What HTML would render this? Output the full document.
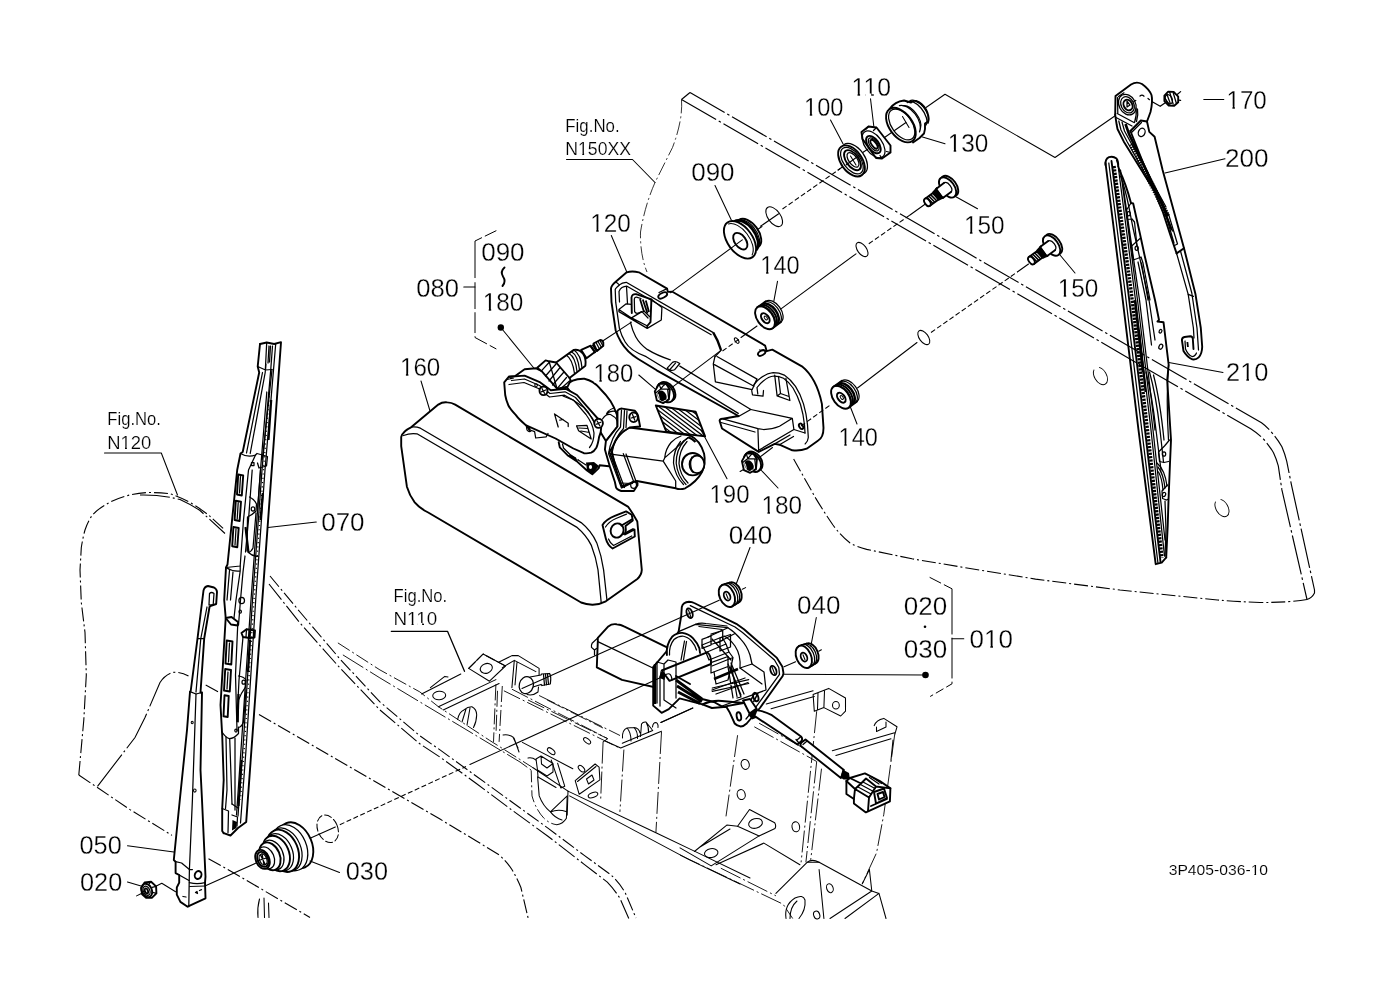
<!DOCTYPE html>
<html><head><meta charset="utf-8"><title>3P405-036-10</title>
<style>
html,body{margin:0;padding:0;background:#fff;}
body{width:1379px;height:1001px;overflow:hidden;font-family:"Liberation Sans",sans-serif;}
svg{display:block;position:absolute;left:0;top:0;fill:none;filter:grayscale(1);}
.l{stroke:#000;stroke-width:1.25;stroke-dasharray:none;stroke-linecap:round;stroke-linejoin:round;}
.t{stroke:#000;stroke-width:1.05;stroke-dasharray:none;stroke-linecap:round;stroke-linejoin:round;}
.w{fill:#fff;stroke:#000;stroke-width:1.25;stroke-dasharray:none;stroke-linecap:round;stroke-linejoin:round;}
.b{stroke:#000;stroke-width:1.9;stroke-dasharray:none;stroke-linecap:round;stroke-linejoin:round;}
.ph{stroke:#000;stroke-width:1.15;stroke-dasharray:40 3 2.5 3;}
.ph2{stroke:#000;stroke-width:1.1;stroke-dasharray:14 3 2 3;}
.cl{stroke:#000;stroke-width:1.05;stroke-dasharray:5 2.5;}
.k{fill:#000;stroke:none;}
text{font-family:"Liberation Sans",sans-serif;fill:#000;stroke:#fff;}
.n{font-size:25px;stroke-width:0.28px;}
.f{font-size:18px;stroke-width:0.18px;}
.s{font-size:14.5px;stroke-width:0.1px;}
</style></head><body>
<svg width="1379" height="1001" viewBox="0 0 1379 1001">
<rect x="0" y="0" width="1379" height="1001" fill="#fff"/>
<!-- 10_glassR.svg -->
<g id="glassR" class="ph">
<path d="M690,92.5 L1261.5,422.8 Q1268,427.500 1273.5,434.7 Q1278,440 1281.9,446.7 Q1285,454 1286.7,461.1 L1291.5,485.1 L1314.5,590 L1314.5,593 Q1312,598 1307,599.5"/>
<path d="M681.5,99.5 L1250.7,428.8 Q1258,433.500 1263.9,439.5 Q1269.500,446 1273.5,452.7 Q1276.500,459 1278.3,465.9 L1281.9,489.9 L1307,599.5"/>
<path d="M690,92.5 L681.5,99.5" style="stroke-dasharray:none"/>
<path d="M1307,599.5 Q1290,602.5 1260,602.5 Q1235,601.500 1217.500,600 L1120,590 L1035.5,579.1 L968.5,568.2 L912,558.8 L866.7,549.4 Q857,547 849.8,542.8 Q841,536 832.8,524.8 Q824,512 815.8,498.4 L792.3,456.6" class="ph2"/>
<path d="M681.5,99.5 Q683,120 672.5,147.5 L655,182.5 Q645,205 640.5,232 Q640,255 647,272" class="ph2" style="stroke-width:0.8"/>
<ellipse cx="1100.5" cy="376" rx="6" ry="9.5" transform="rotate(-30 1100.5 376)" style="stroke-dasharray:34 6;stroke-width:0.9"/>
<ellipse cx="1222" cy="508" rx="6" ry="9.5" transform="rotate(-30 1222 508)" style="stroke-dasharray:34 6;stroke-width:0.9"/>
</g>

<!-- 15_glassL.svg -->
<g id="glassL" class="ph2">
<!-- outer left arc -->
<path d="M78.800,775 L83.800,720 L86.300,675 L85,632.500 L81.300,602.500 L80,570 L81.300,547.500 Q83,537 85,530 Q88,521 92.500,515 Q98,509 105,505 Q114,499.500 125,496.300 Q136,493 147.500,492.500 Q159,492.500 170,493.800 Q180,497 190,502.500 Q201,509 210,516.300 L225,530"/>
<path d="M140,495 Q160,494.500 180,499.500 Q191,504.500 200,510.500 L225,533.500" style="stroke-dasharray:30 3 2 3"/>
<!-- glass edges A,B -->
<path d="M270,576 L300,612 L339.900,658.900 L379.900,701.900 L419.800,735.800 L440,749.900 L476,776 L511.900,802 L547.900,828.100 L583.900,855.100 L610.900,874.900 Q619,882 625.300,892.900 L636,918"/>
<path d="M269,584 L300,623 L339.900,667.900 L379.900,709.900 L419.800,743.800 L440,757.100 L476,783.200 L511.900,810.100 L547.900,836.200 L583.900,864.100 L607.300,882.100 Q614,889 619.900,898.300 L628.800,918.500" style="stroke-dasharray:20 3 2 3"/>
<!-- inner contour -->
<path d="M97.500,786.300 L135,737.500 L145,717.500 L160,682.500 Q165,675 172.500,672.500 Q181,671.500 188.500,676" style="stroke-dasharray:40 3 2 3"/>
<path d="M205.700,685 L219,692.200 M259,714.500 L440,819.100 L476,840.700 L499.400,855.100 Q507,862 511.900,869.500 Q517,878 520.900,887.500 L528.100,918"/>
<!-- lower-left edge -->
<path d="M78.800,775 L130,809.600 L172,835.400 M208.500,858.800 L230,870.700 L310,917.500"/>
<path class="t" d="M259.500,899 Q257,908 258,917.500 M264,898 L264.500,917.500 M268.500,903 L269,917.500"/>
</g>

<!-- 16_frame.svg -->
<g id="frame" class="ph2" style="stroke-width:0.9">
<!-- rails C, D -->
<path d="M337.900,642.900 L379.900,669.900 L419.800,691.900 L438.400,706.700 L489.500,740.300 L532.700,767.500"/>
<path d="M342.900,654.900 L379.900,677.900 L419.800,701.900 L459.800,725.800 L520,762 L531,770" style="stroke-dasharray:24 3 2 3"/>
<!-- plate with 2 holes -->
<path class="t" d="M421.600,694 L460.800,674 M468.700,668.400 L483.100,654 L505.500,666 L489.500,681.200 Z M438.400,706.700 L495.900,679.600 M443.200,709.900 L499.100,683.600 M430.400,687.600 L444.800,676.400 L448,677"/>
<path class="t" d="M468.700,668.400 L483.100,654 L505.500,666" style="stroke-dasharray:9 3"/>
<ellipse class="t" cx="486.300" cy="668.400" rx="6.200" ry="4.800" transform="rotate(-20 486.300 668.400)"/>
<ellipse class="t" cx="439.200" cy="695.500" rx="6.500" ry="4.200" transform="rotate(-5 439.200 695.500)"/>
<!-- L bracket -->
<path class="t" d="M499.100,662 L511.900,655.600 L518.300,655.600 L539.100,668.400 L539.100,676.400 M502.300,667.600 L514.300,660.400 L535.900,671.600 M514.300,660.400 L511.900,687.600 M517,662 L515,685"/>
<!-- frame bolt -->
<path class="l" fill="#fff" d="M530,677 L541,675 L541.500,674 L549.500,673.500 Q551.500,676 550.300,684 L542,685.500 L541,684.500 L533,687"/>
<path class="l" d="M543.500,674.500 l1,10.500 M545.500,674.200 l1,10.500 M547.500,674 l1,10.300"/>
<ellipse class="l" fill="#fff" cx="526.300" cy="685.200" rx="7" ry="8.600" transform="rotate(15 526.300 685.200)"/>
<path class="t" d="M527,694.500 Q533,696 538,692 L538.500,687"/>
<!-- post -->
<path d="M495.900,684.400 L493.500,741.900 M502.300,686 L499.100,741.900 M497.500,690.800 L496,734" style="stroke-dasharray:16 3 2 3"/>
<!-- beam top back edges -->
<path d="M503.900,690.800 L620,748.300 M511.900,689.200 L607.800,738.700 L603,741.900 M539.100,695.500 L620,735.500" style="stroke-dasharray:18 3 2 3"/>
<!-- horn -->
<path class="t" d="M457.600,719.500 Q459,712 463.900,709.900 Q468,706.500 471.900,706.700 Q476.500,709 476.700,714.700 Q476.500,722 473.500,727.500 M466,709 L462,722 M470,708 L467,725"/>
<!-- rail lines crossing to box -->
<path d="M528,700 L607.100,738.400 M547.200,700 L603,728" style="stroke-dasharray:18 3 2 3"/>
<path class="t" d="M522.400,742.400 L572.800,768.700 M532.700,767.500 L568,791.100"/>
<path class="t" d="M503,735 Q510,734 514,738 L519,752 M513,737 L518,748"/>
<!-- small oval holes -->
<ellipse class="t" cx="551.200" cy="751.200" rx="4.500" ry="2.300" transform="rotate(40 551.200 751.200)"/>
<ellipse class="t" cx="587.100" cy="740.800" rx="4.200" ry="2.100" transform="rotate(40 587.100 740.800)"/>
<ellipse class="t" cx="581.500" cy="768.700" rx="4" ry="2.200" transform="rotate(45 581.500 768.700)"/>
<!-- clip 1 & V -->
<path class="t" d="M536,759 L541,756 L553,763.500 L553,772 L547,776 L537.500,770 Z M541,756 L541.500,764 L547,768 L553,763.500 M537.500,770 L538,777 L556,787.500"/>
<path class="t" d="M551.200,760 L560.800,787.900 L564.800,786.300 L557.600,763.200 M528,758 Q532,757 536,760"/>
<!-- hook -->
<path d="M531.200,770.300 L532,795.900 Q536,810 544,818.300 Q550,824 556.800,824.700" style="stroke-dasharray:12 3 2 3"/>
<path class="t" d="M556.800,824.700 Q563,824 566.400,818.300 L567.200,795.900 M537.600,776.700 L539.200,795.900 Q543,806 550.400,811.900 L567.200,795.900 M550.400,811.900 Q558,809 566,811.500 M550.400,811.900 Q555,818 562,820"/>
<!-- clip 2 -->
<path class="t" d="M575.200,780.700 L595.100,764 L599.100,767.100 L599.900,779.900 L579.200,794.300 Z M577.500,781.500 L596,766.500 M586.500,779 L592,775 L594,780 L588.500,784 Z"/>
<ellipse class="t" cx="593" cy="795" rx="5" ry="2.500" transform="rotate(-20 593 795)"/>
<!-- beam front (solid double) -->
<path class="t" d="M568,791.100 L655.900,832.700 L695.900,851.900 L750,878 M569.600,795.900 L689.500,859.900 L740,884 M568,791.100 L567.200,815.100"/>
<!-- column box -->
<path class="t" d="M604.700,740.800 L620.700,748 L661.500,731.200 M622.300,743.200 L652.700,730.400"/>
<path d="M603.100,741.600 L600.700,799.100 M623.900,749.600 L619.900,811.900 M661.500,732 L655.900,832.700" style="stroke-dasharray:22 3 2 3"/>
<!-- stud on box -->
<path class="t" d="M622.500,738 Q622,730 627,728 L634,727.500 Q639,728 640,733 M627,728 Q631,732 631,741 M634,727.500 Q638,732 637.500,738.500 M640.500,736.500 L641.500,724 Q643,721.500 646,722 L652,729.500 M646,722 Q649,727 648.500,732.500 M652.500,727 Q653,722.500 655.900,722.500 Q658.500,723.500 658,727.500"/>
<path class="t" d="M660.700,722.400 L692.800,708"/>
<!-- back panel -->
<path d="M737.600,735.200 L725.600,819.100 M816.700,711.200 L801.100,862.300 M816.700,761.500 L805.900,862.300 M821.500,768.700 L810.700,859.900" style="stroke-dasharray:22 3 2 3"/>
<path d="M754.300,726.800 L816.700,761.500 M759.100,723.200 L814,754" style="stroke-dasharray:22 3 2 3"/>
<ellipse class="t" cx="745.200" cy="764.400" rx="4" ry="5" transform="rotate(-15 745.200 764.400)"/>
<ellipse class="t" cx="741.200" cy="794.600" rx="4" ry="5" transform="rotate(-15 741.200 794.600)"/>
<ellipse class="t" cx="795.800" cy="826.800" rx="3.800" ry="5" transform="rotate(-10 795.800 826.800)"/>
<!-- top bracket with hole -->
<path class="t" d="M813.100,694.400 L828.700,688.400 L845.500,698 L845.500,711.200 L840.700,716 L823.900,707.600 L814.300,711.200 Z M818,693 L817.500,709 M823.900,707.600 L824.500,691"/>
<ellipse class="t" cx="835.900" cy="705.200" rx="3.400" ry="3.800"/>
<path class="t" d="M766.300,704 L813.100,690.800 M771.100,708.800 L814.300,696.500"/>
<!-- right plate -->
<path class="t" d="M874.200,725.600 Q876,720 883.800,718.400 L897,726.800 L894.600,735.200 M832.300,750.700 L894.600,732.800 M835.900,755.500 L891,738.800 M876.500,731.500 L886,727 L886,722 M876.500,731.500 L876.500,727"/>
<path d="M894.600,735.200 L883.800,814.300 L876.600,852.700 L862.300,883.800" style="stroke-dasharray:22 3 2 3"/>
<path d="M893,740 L891,760" class="t"/>
<!-- lower plates with holes -->
<path class="t" d="M749.500,809.500 L774.700,822.700 Q776.500,826 775,828.500 L759.100,835.900 L737.600,826.300 Z"/>
<ellipse class="t" cx="755.500" cy="823.400" rx="7" ry="4.800" transform="rotate(-15 755.500 823.400)"/>
<path class="t" d="M694.400,851.500 L726.800,825.100 L737.600,826.300 M680,847.900 L711.200,865.900 L759.100,835.900 M716,864.700 L763.900,843.100 L799.900,864.700 M700,847 L730,829"/>
<ellipse class="t" cx="711.200" cy="853.100" rx="6.800" ry="4.400" transform="rotate(-10 711.200 853.100)"/>
<!-- bottom beam -->
<path d="M680,855 L783.100,904.200 L792.700,918.500 M720.800,868.200 L775.900,895.800" style="stroke-dasharray:22 3 2 3"/>
<path class="t" d="M775.900,893.400 L807.100,862.300 L819.100,862.300 L871.800,891 L879,893.400 L886,918.500 M819.100,869.500 L823.900,918.500 M869.400,869.500 L871.800,891 M862.300,883.800 L869.400,869.500 M871.800,891 L830,918.500 M879,893.400 L845,918.500"/>
<path d="M807.100,862.300 Q812,858.500 819.100,862.300" class="t"/>
<ellipse class="t" cx="829.900" cy="888.200" rx="3.200" ry="4.600" transform="rotate(-20 829.900 888.200)"/>
<ellipse class="t" cx="816.700" cy="915" rx="3" ry="4" transform="rotate(-20 816.700 915)"/>
<path class="t" d="M786,918.500 Q784,905 795,898 Q803,894 805,900 Q806,910 799,918.500 M790,918.500 Q790,907 797,901"/>
</g>

<!-- 20_arm200.svg -->
<g id="arm200">
<!-- axis polyline from 130 to arm head -->
<path class="t" d="M926,107.5 L945,94.3 L1055,157.5 L1115.5,115.5"/>
<!-- head -->
<path class="b" d="M1115.2,114.8 L1115.5,96 L1131,84.5 Q1136.5,81 1142,84 Q1149,89 1151.5,95 Q1153,101 1150.5,112 L1147,121.5 L1149.3,131.9 L1154.6,136.7 L1162.6,170 L1184,248.2 L1176.6,253.4"/>
<path class="l" d="M1117.5,97.5 L1117.8,113 M1118.5,96.5 L1124,92.8"/>
<ellipse class="l" cx="1127.3" cy="104.6" rx="8.2" ry="10.8" transform="rotate(-28 1127.3 104.6)"/>
<ellipse class="l" cx="1127.5" cy="104.8" rx="6.3" ry="8.6" transform="rotate(-28 1127.5 104.8)"/>
<ellipse class="b" cx="1128" cy="105" rx="4.2" ry="5.6" transform="rotate(-28 1128 105)"/>
<path class="l" d="M1127,101 l3,4 l-3,2 z"/>
<path class="l" d="M1135.8,100.5 l-2,1 M1140,96 q2,-1.800 4,0.200 M1148,98.500 l1.500,1.200"/>
<path class="l" d="M1136,108 Q1137,115 1134.500,122.500 M1137.500,109 Q1138.500,115 1136.500,121.500"/>
<path class="l" d="M1117.200,113.500 L1134,122.500 M1116,117.500 L1132,126"/>
<!-- plate -->
<path class="b" d="M1130.400,131 L1140.800,120.500 L1147,121.500"/>
<path class="l" d="M1131.800,132.200 L1141.500,122.500"/>
<path class="b" d="M1130.400,131 L1163,212.500 L1170,234 L1176.600,253.400"/>
<ellipse class="l" cx="1141.700" cy="132.400" rx="3.300" ry="4.300" transform="rotate(20 1141.700 132.400)"/>
<!-- left body / spring -->
<path class="b" d="M1115.200,114.800 L1116.600,124.300 L1117.500,129 L1123.700,141.400 L1160,200 L1171.400,229.300"/>
<path class="l" d="M1118.800,121 L1121,130 L1127,141.500 L1162,203 L1172.500,231"/>
<path class="l" d="M1122,122 L1124.500,131 L1166,207"/>
<path d="M1125.500,124 L1129,134 L1168,216" fill="none" stroke="#000" style="stroke-width:2.600"/>
<path d="M1131.500,144 L1167.500,216" fill="none" stroke="#000" style="stroke-width:5.400;stroke-dasharray:1.200 1.300"/>
<path class="l" d="M1165.500,214 L1174,243 M1168.500,214 L1177.500,244 L1174.500,245.500"/>
<!-- rod -->
<path class="l" d="M1176.600,253.400 L1188.200,294.300 L1193.400,328 L1194,338"/>
<path class="l" d="M1180.500,251 L1191.800,293 L1197,328 L1198.500,350"/>
<path class="b" d="M1184,248.200 L1195.500,294.300 L1200.800,328 L1202.200,346.800 Q1202,354 1198.700,357.300 Q1196,360 1192.400,359.400 Q1187,357 1183.500,351 L1181.900,340 Q1182,337.500 1184.500,337 L1190.300,336.300 Q1192.500,336.500 1192.800,338.500 L1193.500,349"/>
<path class="l" d="M1188.200,294.300 L1193.400,296.400 M1185,341 L1185.500,349 Q1188,355 1192,356.500 Q1195,356.500 1196.500,353"/>
<path d="M1186.500,342 l1.800,0 l0.500,5 l-1.800,0 z" class="k"/>
<!-- nut 170 -->
<path class="l" d="M1151.800,101.500 L1160.200,106.300 L1166,102.200 M1177.500,94.300 L1180.600,91.600 M1178.700,100.100 L1180.600,100.400"/>
<g transform="translate(1171.200,98.700)">
<path class="b" d="M-6.800,-3 L-3,-7 L2.500,-6.800 L7,-2 L7,3.500 L3,7 L-2.500,6.800 L-6.800,2.500 Z" fill="#fff"/>
<path class="l" d="M-4.500,-5 L-1,4.500 M-1.500,-6.500 L2,5.500 M2,-6 L5,4 M-6,0 L-2,6"/>
<ellipse cx="-2.300" cy="-0.500" rx="3.200" ry="4.800" transform="rotate(-25)" class="l"/>
</g>
</g>

<!-- 21_blade210.svg -->
<g id="blade210">
<!-- rail -->
<path class="b" d="M1105.500,165 Q1105,159 1109,157.200 Q1113,155.800 1116.500,158.500 Q1118.500,161 1118.200,166.500"/>
<path class="b" d="M1105.500,163 L1121.500,290 L1138.500,430 L1155.700,564.200 L1161.700,562.700 L1166.200,557.500"/>
<path class="l" d="M1108.800,163 L1124.800,290 L1141.800,430 L1158,563.500"/>
<path class="b" d="M1111.500,161 L1128,290 L1145,430 L1160.500,562"/>
<path d="M1114,166 L1131,290 L1147.500,430 L1162,558" fill="none" stroke="#000" style="stroke-width:3.400;stroke-dasharray:2.200 1.200"/>
<path class="l" d="M1118.200,166.500 L1135.500,300 L1151,430 L1164.500,556"/>
<path class="l" d="M1116.500,160 L1119.500,169.500"/>
<path class="l" d="M1137.500,300 L1153,430 L1165,540"/>
<path class="l" d="M1120.500,170 L1137.500,300 M1122.500,182 L1139.500,300 L1155,430"/>
<path d="M1135,300 L1143,372" fill="none" stroke="#000" style="stroke-width:2.500"/>
<path d="M1139,330 L1145.500,392" fill="none" stroke="#000" style="stroke-width:2"/>
<!-- yoke outer -->
<path class="b" d="M1119,169.500 Q1126,184 1131,203 L1133.200,203.500 L1140,234 L1144.500,255 L1155,300 L1159,320 L1157.500,321.500 L1163.500,322.200 L1168.700,365 L1167.200,380 L1171,440 L1170,463 L1168.500,500.500 L1167.700,526 L1166.200,557.500"/>
<path class="l" d="M1120.500,176 Q1125,188 1128.500,205 L1133,228 L1138,250 L1149,300 L1155,340"/>
<!-- tabs -->
<path class="l" d="M1131,203 L1126.500,210 L1127.500,219.500 L1132,219 L1134.500,222 L1137,246"/>
<ellipse class="l" cx="1128.700" cy="213.700" rx="1.600" ry="2.100"/>
<path class="l" d="M1140,238.500 L1131.700,246 L1133,260 L1137.500,258.500 L1141,257 L1143,263 L1150,300"/>
<ellipse class="l" cx="1136.700" cy="248.200" rx="1.600" ry="2.100"/>
<path class="l" d="M1138,262 L1146,300 L1151.500,345 M1141.500,263 L1148,300"/>
<ellipse class="l" cx="1160.500" cy="331.200" rx="1.300" ry="1.900" transform="rotate(25 1160.500 331.200)"/>
<ellipse class="l" cx="1160.800" cy="346.700" rx="1.800" ry="2.600" transform="rotate(25 1160.800 346.700)"/>
<!-- lower curves -->
<path class="l" d="M1146,372 Q1152,395 1156,430 L1161,470 M1149.500,372 Q1156,395 1160,430 L1163.500,462 M1153.500,375 Q1160,400 1164,440"/>
<path class="l" d="M1168.500,365 Q1166,400 1168.500,440"/>
<path class="l" d="M1169.500,440 L1164.500,446 L1158.500,452 L1159.500,461.500 L1164,462.500 L1168.500,461.500"/>
<ellipse class="l" cx="1164" cy="454" rx="1.700" ry="2.200"/>
<path class="l" d="M1157,463 Q1165,470 1167,486 M1158,467 Q1163.500,474 1165,488 M1158.500,472 Q1162,478 1163,490"/>
<path class="l" d="M1167.500,485 L1162,491 L1162.500,498.500 L1166.500,500 L1168.500,499"/>
<ellipse class="l" cx="1164" cy="494.500" rx="1.600" ry="2.100" transform="rotate(20 1164 494.500)"/>
<path class="l" d="M1165,501 L1166,530 L1165,556"/>
</g>

<!-- 25_bracket120.svg -->
<g id="bracket120">
<!-- main silhouette (white fill) -->
<path class="b" fill="#fff" d="M626.7,272.3 Q632,270.6 638.8,272.3 L667.1,288.6 L667.8,291.9 L672.4,291.7 L765.1,345.6 L766.7,351.2 L772.3,349.6 L801.9,366.3 Q816.5,378 821.9,403.9 L823.5,427.9 Q823.5,437.500 817.9,440.700 L806.700,448.700 Q800,451.200 792.300,450.300 L779.500,444.700 L774.700,443.900 L758.700,451.900 L722,428.500 L719.600,420.700 Q720,418.500 723,418.800 L738.600,416 L656.700,370.300 L637.800,358.800 Q627,352 621,342 Q617.500,336 615.700,330.500 L611.500,302.200 L611,288.600 Q611.200,285.500 615.700,281.700 Z"/>
<!-- rim lines left end -->
<path class="l" d="M713.300,332.600 L626.200,282.300 Q622,282.500 619.400,284.900 Q615.500,288 615.200,289.600 L615.700,302.200 L619.400,328.400 Q621.500,336 625.200,342 Q630,350.500 646.200,356.700 L738.300,413.400"/>
<path class="l" d="M711.200,334.700 L627,286.200 Q621,286.500 619,291.500 L619.500,302"/>
<path class="l" d="M615.700,281.700 L619.400,284.900"/>
<path d="M713.300,332.600 Q718,340 721,350" fill="none" stroke="#000" style="stroke-width:2.400"/>
<!-- slot top-left -->
<ellipse class="b" cx="662.700" cy="295.400" rx="4.800" ry="2.400" transform="rotate(-28 662.700 295.400)"/>
<path class="l" d="M667.100,288.600 L659,292.500"/>
<!-- recess box -->
<path class="l" d="M618.900,309.500 L626.200,303.800 L631.500,304.300 M618.900,309.500 L618.900,311.600 L647.200,328.400 L661.300,320 L661.900,307.400 L651.400,299.300 M618.900,309.500 L631.500,317.900 L641.900,311.600 M647.200,328.400 L647.500,326 L631.500,317.900"/>
<path class="b" d="M631.800,313 L631.500,297.500 Q632,293.600 636.200,294.200 L651.400,299.300 L650.500,322.200 L647.200,326"/>
<path class="l" d="M634.600,311.600 L634.300,299.500 Q634.500,296.800 637.200,297.300 L641,298.500 M634.600,311.600 Q636,314.200 639,312.800 L641.900,311.600"/>
<path d="M640,299 L644,312 M642.800,299.500 L647.500,313.500 M645.800,300.500 L649,312" fill="none" stroke="#000" style="stroke-width:1.800"/>
<path class="l" d="M626.500,286.500 L627.500,303.500 M641.900,311.600 L648,318 M644,311 L649.500,316.500"/>
<!-- inner cutout -->
<path class="l" d="M630.400,322.100 Q632.500,331 635.700,336.800 Q640,344.500 647.200,349.400 Q657,355.500 670.300,359.800 M679.800,366.100 L750.800,409.500 L738,416.700"/>
<path class="l" d="M667.200,368.200 L672.500,362.400 Q674.500,361.200 677,362 L679.800,363.500 L674.500,369.800 Q672,371 669.500,370 Z M669.500,370 L675.500,363.200"/>
<!-- pocket -->
<path class="l" d="M714.900,356.700 L713.300,364 L715.400,381.900 L752.100,389.700 L756.800,379.300 M717,356.500 L757.100,379.100 M714.400,364.600 L754,386.300 M751.600,390 L752.500,394.800 L763,396.200 L763.500,390.500"/>
<path class="l" d="M721,350.400 L714.900,356.700"/>
<!-- arch -->
<path class="l" d="M753.900,384.700 Q757,380.500 760.300,378.300 Q767,373.200 773.100,372.700 Q779,372.700 784.300,375.100 Q790.500,379.500 795.500,386.300 Q800.500,394 803.500,403.900 Q806.500,414 807.500,424.700 L808.300,437.500 Q808,441.500 805.100,443.900"/>
<path class="l" d="M757.500,387 Q760,383.500 763,381.200 Q768.500,376.500 774,376 Q779,376 783.500,378.200 Q788.500,381.500 793,388 Q797.500,395.500 800.500,404.500 Q803.500,414.500 804.500,425 L805,433"/>
<path class="l" d="M774.700,375.100 L777.100,395.900 L789.900,400.500 L785.900,378.300 M777.100,395.900 L780.500,393.500 L778.500,376.500 M780.500,393.500 L789,396.500"/>
<path class="l" d="M757,387.500 L757.800,394"/>
<!-- front protrusion box -->
<path class="l" d="M723,418.800 L757.900,428.700 L758.700,451.900 M757.900,428.700 L763.500,429.500 Q772,429.500 779.500,426.300 L792.300,418.300 L793.900,429.500 L758.700,450.300 M750.800,409.500 L792.300,418.300 M721,422.500 L755,432"/>
<path class="l" d="M793.900,429.500 L805,433 M779.500,444.700 L793.500,436.500 M774.700,443.900 L790,435"/>
<ellipse class="b" cx="801.100" cy="426.300" rx="1.800" ry="3" transform="rotate(-30 801.100 426.300)"/>
<!-- small top-right slot -->
<ellipse class="b" cx="761.700" cy="353" rx="4" ry="2.300" transform="rotate(-28 761.700 353)"/>
<path class="l" d="M766.700,351.200 L759.500,350"/>
<!-- small hole on top face -->
<ellipse class="t" cx="736.700" cy="340.600" rx="1.600" ry="3.200" transform="rotate(-36 736.700 340.600)"/>
</g>

<!-- 30_small.svg -->
<g id="30_small">
<path class="t" d="M748,236 L762,226.5" />
<path class="cl" d="M782.5,209 L840,168.8" />
<path class="t" d="M838,170 L846,164.5" />
<path class="t" d="M862,153 L868,149" />
<path class="t" d="M884.5,137.5 L894.5,130.5" />
<ellipse class="w" cx="854.1" cy="159" rx="10.5" ry="17.6" transform="rotate(-36 854.1 159)" />
<ellipse class="b" cx="851.5" cy="160.9" rx="10.5" ry="17.6" transform="rotate(-36 851.5 160.9)" fill="#fff"/>
<ellipse class="l" cx="851.9" cy="160.6" rx="8.6" ry="15.2" transform="rotate(-36 851.9 160.6)" />
<ellipse class="b" cx="852.5" cy="160.2" rx="6.2" ry="11.6" transform="rotate(-36 852.5 160.2)" />
<ellipse class="l" cx="853" cy="159.9" rx="4.2" ry="8.4" transform="rotate(-36 853 159.9)" />
<path class="t" d="M846,165 L859,155.5" />
<path class="t" d="M850.5,156 L856,165" />
<path class="b" d="M861.5,132 L868.5,126.5 L876.5,127.5 L890.5,145.5 L890.5,152.5 L882,158.5 L876,158 L862.5,139 Z" fill="#fff"/>
<ellipse class="l" cx="873.6" cy="144.4" rx="8.6" ry="15.4" transform="rotate(-36 873.6 144.4)" />
<path class="l" d="M868.5,126.500 L866,129 M876.500,127.500 L873.500,130.500 M890.500,152.500 L886.500,151.500 M882,158.500 L880,155.500" />
<ellipse class="b" cx="873.4" cy="144.6" rx="5.4" ry="10" transform="rotate(-36 873.4 144.6)" />
<ellipse class="l" cx="873.7" cy="144.4" rx="3.8" ry="7.6" transform="rotate(-36 873.7 144.4)" />
<ellipse class="b" cx="874" cy="144.2" rx="2.2" ry="5.2" transform="rotate(-36 874 144.2)" />
<path class="b" d="M889.5,109 Q895,101.500 904,100.500 L911,102.500 Q913,100.500 916,101 Q922,103 926,109.500 Q929.500,116 928,121.500 L925,123.500 Q925.500,129 924,133.500 L919.500,138 L913,142.500" fill="#fff"/>
<ellipse class="b" cx="900.9" cy="125.1" rx="11.6" ry="19.6" transform="rotate(-36 900.9 125.1)" fill="#fff"/>
<ellipse class="l" cx="901.7" cy="124.5" rx="10" ry="17.6" transform="rotate(-36 901.7 124.5)" />
<path class="l" d="M899.4,105.6 A9.5 17 -36 0 1 919.5,131.9" />
<path class="l" d="M903.1,105.7 A8 15 -36 0 1 920.4,128.4" />
<path class="l" d="M909.5,101.2 A7.5 14.5 -36 0 1 927.9,123.3" />
<path class="l" d="M907.3,102.5 A7.5 14.8 -36 0 1 926.1,125" />
<path class="t" d="M894.5,130.5 L906,122.5" />
<path class="t" d="M902.5,116.5 L909,127.5" />
</g>

<!-- 31_small2.svg -->
<g id="31_small2">
<ellipse class="b" cx="748.8" cy="233.3" rx="9.6" ry="16.6" transform="rotate(-36 748.8 233.3)" fill="#fff"/>
<path class="l" d="M736.7,221.7 A9.6 16.6 -36 0 1 757.5,247.5" />
<path class="l" d="M734.5,221.5 A10.4 18 -36 0 1 756.7,249.5" style="stroke-width:2.8"/>
<ellipse class="b" cx="740" cy="239.8" rx="12.4" ry="21.4" transform="rotate(-36 740 239.8)" fill="#fff"/>
<path class="t" d="M728.4,223.9 A11.2 20 -36 0 1 752.1,254.9" />
<ellipse class="b" cx="740.3" cy="241.2" rx="5.6" ry="9.4" transform="rotate(-36 740.3 241.2)" />
<path class="t" d="M670.3,292.8 L742.3,239.9" />
<ellipse class="t" cx="774.2" cy="216.7" rx="6.2" ry="11.4" transform="rotate(-36 774.2 216.7)" />
<path class="t" d="M760.5,226.3 L778.7,213.7" />
<ellipse class="w" cx="773.4" cy="311.6" rx="7.6" ry="12.8" transform="rotate(-36 773.4 311.6)" />
<path class="w" d="M757.4,307.3 L765.9,301.2 L781,321.9 L772.6,328.3 Z" style="stroke:none"/>
<path class="b" d="M757.4,307.3 L765.9,301.2" />
<path class="b" d="M772.6,328.3 L781,321.9" />
<path class="l" d="M763.9,302.7 A7.6 12.8 -36 0 1 779.4,323.1" />
<path class="l" d="M762.8,304.5 A6.8 12 -36 0 1 777.3,323.6" style="stroke-width:2.4"/>
<path class="b" d="M760.6,305.7 A7.2 12.4 -36 0 1 775.5,325.4" />
<ellipse class="b" cx="765" cy="317.8" rx="7.8" ry="13" transform="rotate(-36 765 317.8)" fill="#fff"/>
<path class="t" d="M760,306.7 A7 12 -36 0 1 774.4,325.5" />
<ellipse class="b" cx="765.3" cy="318.2" rx="3.4" ry="5.6" transform="rotate(-36 765.3 318.2)" style="stroke-width:2"/>
<ellipse class="t" cx="765.8" cy="318" rx="1.2" ry="2.2" transform="rotate(-36 765.8 318)" />
<ellipse class="w" cx="849.4" cy="391.1" rx="7.6" ry="12.8" transform="rotate(-36 849.4 391.1)" />
<path class="w" d="M833.4,386.8 L841.9,380.7 L857,401.4 L848.6,407.8 Z" style="stroke:none"/>
<path class="b" d="M833.4,386.8 L841.9,380.7" />
<path class="b" d="M848.6,407.8 L857,401.4" />
<path class="l" d="M839.9,382.2 A7.6 12.8 -36 0 1 855.4,402.6" />
<path class="l" d="M838.8,384 A6.8 12 -36 0 1 853.3,403.1" style="stroke-width:2.4"/>
<path class="b" d="M836.6,385.2 A7.2 12.4 -36 0 1 851.5,404.9" />
<ellipse class="b" cx="841" cy="397.3" rx="7.8" ry="13" transform="rotate(-36 841 397.3)" fill="#fff"/>
<path class="t" d="M836,386.2 A7 12 -36 0 1 850.4,405" />
<ellipse class="b" cx="841.3" cy="397.7" rx="3.4" ry="5.6" transform="rotate(-36 841.3 397.7)" style="stroke-width:2"/>
<ellipse class="t" cx="841.8" cy="397.5" rx="1.2" ry="2.2" transform="rotate(-36 841.8 397.5)" />
<g transform="translate(0,0)">
<path class="b" d="M933.5,192.5 L924.8,198.9 L929.9,205.8 L938.6,199.4 Z" fill="#fff"/>
<ellipse class="b" cx="927.4" cy="202.3" rx="2.6" ry="4.3" transform="rotate(-36 927.4 202.3)" fill="#fff"/>
<path class="l" d="M927.4,197.8 L932.5,203" style="stroke-width:1.5"/>
<path class="l" d="M929.3,196.5 L934.4,201.7" style="stroke-width:1.5"/>
<path class="l" d="M931.1,195.1 L936.2,200.3" style="stroke-width:1.5"/>
<path class="l" d="M933,193.7 L938.1,198.9" style="stroke-width:1.5"/>
<path class="b" d="M936.8,188.5 L933.3,192.2 L938.8,199.6 L943.4,197.5 Z" fill="#000"/>
<ellipse class="b" cx="949.6" cy="185.9" rx="6.6" ry="11.6" transform="rotate(-36 949.6 185.9)" fill="#fff"/>
<ellipse class="b" cx="947.6" cy="187.4" rx="6.6" ry="11.6" transform="rotate(-36 947.6 187.4)" fill="#fff"/>
<path class="w" d="M944.2,182.8 L936.7,188.4 L943.5,197.5 L951,192 Z" style="stroke:none"/>
<path class="b" d="M944.2,182.8 L936.7,188.4" />
<path class="b" d="M951,192 L943.5,197.5" />
<path class="b" d="M943.4,197.6 A3.4 5.7 -36 0 1 936.7,188.3" fill="#000"/>
<path class="l" d="M944.2,182.8 A3.4 5.7 -36 0 1 950.9,192" />
</g>
<g transform="translate(104,58.2)">
<path class="b" d="M933.5,192.5 L924.8,198.9 L929.9,205.8 L938.6,199.4 Z" fill="#fff"/>
<ellipse class="b" cx="927.4" cy="202.3" rx="2.6" ry="4.3" transform="rotate(-36 927.4 202.3)" fill="#fff"/>
<path class="l" d="M927.4,197.8 L932.5,203" style="stroke-width:1.5"/>
<path class="l" d="M929.3,196.5 L934.4,201.7" style="stroke-width:1.5"/>
<path class="l" d="M931.1,195.1 L936.2,200.3" style="stroke-width:1.5"/>
<path class="l" d="M933,193.7 L938.1,198.9" style="stroke-width:1.5"/>
<path class="b" d="M936.8,188.5 L933.3,192.2 L938.8,199.6 L943.4,197.5 Z" fill="#000"/>
<ellipse class="b" cx="949.6" cy="185.9" rx="6.6" ry="11.6" transform="rotate(-36 949.6 185.9)" fill="#fff"/>
<ellipse class="b" cx="947.6" cy="187.4" rx="6.6" ry="11.6" transform="rotate(-36 947.6 187.4)" fill="#fff"/>
<path class="w" d="M944.2,182.8 L936.7,188.4 L943.5,197.5 L951,192 Z" style="stroke:none"/>
<path class="b" d="M944.2,182.8 L936.7,188.4" />
<path class="b" d="M951,192 L943.5,197.5" />
<path class="b" d="M943.4,197.6 A3.4 5.7 -36 0 1 936.7,188.3" fill="#000"/>
<path class="l" d="M944.2,182.8 A3.4 5.7 -36 0 1 950.9,192" />
</g>
<path class="cl" d="M722.5,351 L740,338.5" />
<path class="t" d="M741,337.5 L757,326" />
<path class="t" d="M781,308.8 L856,253.8" />
<ellipse class="t" cx="862" cy="249.5" rx="4.4" ry="8.2" transform="rotate(-36 862 249.5)" />
<path class="cl" d="M868.8,243.8 L910,215" />
<path class="t" d="M910,215 L925,204.2" />
<path class="cl" d="M801,426 L829.5,405.5" />
<path class="t" d="M857.5,388 L917,342.5" />
<ellipse class="t" cx="923.8" cy="337.5" rx="4.4" ry="8.2" transform="rotate(-36 923.8 337.5)" />
<path class="cl" d="M931,332.5 L1018,271.5" />
<path class="t" d="M1018,271.5 L1028.5,264" />
</g>

<!-- 40_motor080.svg -->
<g id="motor080">
<!-- axis line from bracket ledge to shaft tip -->
<path class="t" d="M631.5,322.1 L602.7,341"/>
<!-- worm wheel housing (round, behind) -->
<path class="b" fill="#fff" d="M566,386 Q571,378.500 584.400,378.800 Q594,381 600.100,388.700 Q606.500,395 610.600,401.300 Q614.500,407.500 617,415 L617.500,426.500 L605.900,441.100 L598,428 Z"/>
<!-- motor can -->
<path class="b" fill="#fff" d="M612,452 Q614,436 629.600,427.500 L689.400,435.200 Q700,440 704.100,453.700 Q706,463 702,472 Q697,481.500 685.200,488.300 Q680,490 675.700,488.300 L636.900,481 L620,487 Z"/>
<path class="l" d="M607.100,453.700 L663.200,461.100 L664.700,457.900 M663.200,461.100 L675.700,481 L675.700,488.300 M664.700,457.900 Q665.500,449 671,442.500 Q675,438 681,436 M664.700,457.900 L688,437.500"/>
<path class="l" d="M689.400,436.900 L683,441.500"/>
<path d="M688.500,437.300 Q692,438.500 695.500,442" fill="none" stroke="#000" style="stroke-width:2.200"/>
<!-- end cap rings -->
<path class="l" d="M680.500,441.500 Q673.500,450 673.500,463 Q675,476 683.500,484.500"/>
<path class="l" d="M684,441 Q676,450 676.200,463.300 Q677.500,476 686,484.500"/>
<path class="l" d="M687,441.500 Q679,450.500 679,463.500 Q680,475 688,483"/>
<ellipse class="b" cx="692.700" cy="464.200" rx="10.700" ry="11.200" fill="#fff"/>
<ellipse class="b" cx="697" cy="464.300" rx="7.400" ry="8.800" fill="#fff"/>
<path class="l" d="M692,457 Q689,464 692.500,472"/>
<!-- flange plate of motor -->
<path class="b" fill="#fff" d="M617.500,410.700 Q619.500,408.200 622.300,408.600 L634.800,410.700 Q638,413.500 638.500,418.100 L640.100,426.500 L629.600,427.500 Q617,433.500 612.500,447 L609.500,452 L622.300,487.300 L633.800,482 L635.900,481 Q638,483 637.500,485.200 L633.800,491 L621.200,491 Q616.500,489.500 616,487.300 L614.900,482 L610.100,467.400 L604.900,449.500 L605.900,441.100 L617.500,426.500 Z"/>
<path class="l" d="M621.500,410 L620.500,427 Q611,437 608.600,453.700 L621.500,488 M624.500,410.500 L623.500,428.500 Q614.500,438 611.500,453 L624.500,487.500 M627,411 L626,427.500"/>
<path class="l" d="M623.300,453.700 L633.800,482 M626,454 L636,481.300 M620,483 L632.500,483.500"/>
<ellipse class="b" cx="633.600" cy="417.300" rx="4.300" ry="4.800"/>
<path class="l" d="M632.500,414.500 l2.200,5.600 M631.200,418 l4.800,-1.400"/>
<ellipse class="l" cx="633.600" cy="485" rx="2.900" ry="3.400"/>
<path class="l" d="M614,408 Q608,410 606.500,414 M606.500,414 Q611,409.500 617.500,412"/>
<!-- gearbox cover plate -->
<path class="b" fill="#fff" d="M504.200,382.400 L508.900,376.700 L524.600,375.600 L540.300,382.400 L550.800,390.300 L565.500,388.700 L577,395 L590.700,410.700 L599.500,420.500 Q603,428 599.100,436.900 Q598,444 596.500,447.400 Q594,451.500 591.200,452.700 Q587,453.800 583.900,453.200 L573.400,448.500 L555.600,438.500 L526.200,425.400 Q519,419.500 515.700,414.900 Q510,409 508.400,405.500 Q506,400 505.200,395 Z"/>
<path class="l" d="M511.500,380.500 L524.500,379 L539.500,385.500 L550,393.500 L565,391.800 L575.500,397.500 L588.500,412.500 L596.500,426.500"/>
<path class="l" d="M509,384.500 L524,382.500 L538.500,388.500 L549.500,397 L564.500,395.200 L573.500,400.200 L586,414.500 Q593,424 594,433 Q594,442 589.500,447.500"/>
<path class="l" d="M562.900,396 L573.400,400.200 L583.900,407.600 L592.300,418.100 L596.500,426.500"/>
<!-- housing top behind cover -->
<path class="b" d="M508.900,376.700 L515.200,376.100 L524.600,369.300 L536.100,368.300 L541.400,370.900"/>
<path class="l" d="M510.500,378.200 L513.200,378.200 M506.500,379.500 L512,378.500"/>
<!-- boss -->
<path class="b" fill="#fff" d="M541.400,370.900 L537.200,367.800 L545.600,360.400 L549,361.300 L556.100,362.500 L563.400,365.700 L570.700,380.300 L567.600,386.600 L557.100,388.700 Z"/>
<path class="l" d="M541.400,370.900 L549.500,362 M545.500,376 L556,364 M549,381 L560.500,367 M552.500,385 L563.500,372.500 M557.100,388.700 L566.500,377.500 M561.500,388 L569.500,381"/>
<path class="l" d="M549,361.300 L557.100,388.700"/>
<!-- shaft cylinder -->
<path class="b" fill="#fff" d="M556.100,362.500 L573.900,349.900 Q579,349 583,353.500 Q586.500,359 585.400,365.700 L569.500,378 Z"/>
<path class="l" d="M569,353.500 Q575.500,357 577,371.500 M571.500,351.800 Q578,355.500 579.500,369.800 M573.900,349.900 Q581,354.500 582,368 M566.500,355.200 Q572.500,359 574.500,373.500"/>
<path class="b" fill="#fff" d="M581.200,349.900 L590.700,345.700 L594.900,352 L586.500,358.300 Z"/>
<path d="M590,345.500 L595.500,353 M592.500,344.500 L597,351.500" fill="none" stroke="#000" style="stroke-width:2"/>
<path class="b" fill="#fff" d="M593.500,343.500 L600.100,340 Q602.500,340 603.300,342.500 L603.300,345.700 L597,351 Z"/>
<path class="l" d="M596,342.500 L599.500,349 M598,341.500 L601.500,347.500 M600,340.500 L603,346"/>
<!-- screws on cover -->
<ellipse class="b" cx="543.500" cy="390.800" rx="4" ry="4.300" fill="#fff"/>
<path class="l" d="M542,388.500 l2.500,4.800 M541.300,391.800 l4.400,-1.800"/>
<ellipse class="t" cx="536.100" cy="385.100" rx="1.400" ry="1.400"/>
<ellipse class="b" cx="598.600" cy="423.300" rx="4.300" ry="4.600" fill="#fff"/>
<path class="l" d="M597,420.800 l2.800,5 M596.200,424.300 l4.600,-2"/>
<path class="l" d="M602.500,419 Q606,413.500 610.500,414.500 Q615,416.500 617.500,421"/>
<!-- marks -->
<path class="l" d="M554.500,413.900 L558.200,427 M554.500,413.900 L568.200,423.300 L568.200,426.500 M559.800,420.200 L563,419.500"/>
<path class="l" d="M576.600,425.900 L587,425.400 L591.200,439 L578.600,430.700 Z M579,428 L588,428.500 M581,431 L589.500,432.500"/>
<!-- bottom tabs & dark bracket -->
<path class="l" d="M526.200,425.400 L527,430 Q529,433 531.500,430.500 L534.600,431.700 L535.700,438 L546.100,436.900 L548,433.500"/>
<path class="k" d="M526,426 l3,5.500 l2,-1 l-1,-3.500 z"/>
<path class="b" d="M558.700,442.200 L559.800,447.400 L568.200,455.800 L576.600,461.100 L587,470.500 L592.300,474.200 L598.600,468.400 L599.600,465.300 L609.100,466.300"/>
<path class="l" d="M562.500,444 L563.500,448 L571,455.500 L579,460.500 L586,465"/>
<path d="M568.200,455.800 L576.600,461.100 L579,459.500 L571,454.500 Z M586,462.500 L594,462 L599,466 L592.300,474.200 L587,470.500 Z" class="k"/>
<ellipse cx="590.500" cy="467" rx="1.600" ry="2" fill="#fff"/>
<ellipse cx="577.500" cy="458" rx="1.200" ry="1.600" fill="#fff"/>
</g>
<g id="hatch190">
<clipPath id="cp190"><path d="M655.8,405.5 L695.7,411.8 L705.1,436.4 L666.3,431.7 Z"/></clipPath>
<path class="b" fill="#fff" d="M655.8,405.5 L695.7,411.8 L705.1,436.4 L666.3,431.7 Z"/>
<path class="l" clip-path="url(#cp190)" d="M657.9,385.2 L721.7,433.5 M655.9,387.8 L719.7,436.1 M653.9,390.5 L717.7,438.8 M651.9,393.1 L715.7,441.4 M650.0,395.7 L713.7,444.0 M648.0,398.4 L711.7,446.6 M646.0,401.0 L709.8,449.3 M644.0,403.6 L707.8,451.9 M642.0,406.3 L705.8,454.5 M640.0,408.9 L703.8,457.2"/>
</g>

<!-- 41_nuts180.svg -->
<g id="41_nuts180">
<g transform="translate(664.6,392.9)">
<ellipse class="b" cx="2.2" cy="-1.4" rx="7.4" ry="10.600" transform="rotate(-36 2.200 -1.400)" fill="#fff"/>
<ellipse class="b" cx="0.8" cy="-0.3" rx="7.4" ry="10.600" transform="rotate(-36 0.800 -0.300)" fill="#fff"/>
<path class="b" fill="#fff" d="M-9.800,-1.500 L-5.500,-9 L1.500,-9.200 L5.200,-3.500 L4.200,6.500 L-1.500,10.200 L-7.800,7.500 Z"/>
<path class="l" d="M-5.500,-9 L-3.800,-4 L-9,0 M-3.800,-4 L3,-3.800 L4.200,6.500 M3,-3.800 L5.200,-3.500 M-3.800,-4 L-1,-7.500 L1.500,-9.200"/>
<ellipse cx="-2.600" cy="3" rx="4.200" ry="5.800" transform="rotate(-30 -2.600 3)" fill="#000"/>
<path d="M-6.500,1 l1.200,5 M-1,8 l2.500,-0.800" fill="none" stroke="#fff" style="stroke-width:0.9"/>
</g>
<g transform="translate(751.7,462.6)">
<ellipse class="b" cx="2.2" cy="-1.4" rx="7.4" ry="10.600" transform="rotate(-36 2.200 -1.400)" fill="#fff"/>
<ellipse class="b" cx="0.8" cy="-0.3" rx="7.4" ry="10.600" transform="rotate(-36 0.800 -0.300)" fill="#fff"/>
<path class="b" fill="#fff" d="M-9.800,-1.500 L-5.500,-9 L1.500,-9.200 L5.200,-3.500 L4.200,6.500 L-1.500,10.200 L-7.800,7.500 Z"/>
<path class="l" d="M-5.500,-9 L-3.800,-4 L-9,0 M-3.800,-4 L3,-3.800 L4.200,6.500 M3,-3.800 L5.200,-3.500 M-3.800,-4 L-1,-7.500 L1.500,-9.200"/>
<ellipse cx="-2.600" cy="3" rx="4.200" ry="5.800" transform="rotate(-30 -2.600 3)" fill="#000"/>
<path d="M-6.500,1 l1.200,5 M-1,8 l2.500,-0.800" fill="none" stroke="#fff" style="stroke-width:0.9"/>
</g>
<path class="t" d="M721,350.4 L672.4,387.1" />
<path class="t" d="M759.5,457.4 L772.5,447.5" />
<path class="t" d="M740.1,471.5 L743.5,469.5" />
</g>

<!-- 45_cover160.svg -->
<g id="cover160">
<path class="b" fill="#fff" d="M411.400,427.100 L438.300,404.600 Q442.500,401.800 447.300,402.400 Q451.500,402.600 455.200,404.600 L628.300,506.900 L632.800,513.700 L637.300,521.500 L641.800,569.900 Q641.500,575.500 637.300,578.900 L605.800,601.300 Q599,604.800 592.300,604.700 Q586,604.500 581.100,602.500 L428.200,512.500 Q420,508.500 414.700,502.400 Q409.500,495.500 406.900,486.700 L401.200,446.200 L401.200,437 Q402.500,431.500 411.400,427.100 Z"/>
<path class="l" d="M411.400,427.100 Q416,426.500 420.400,428.200 L581.100,522.600 Q591,530.500 596.800,542.900 Q601.500,555.500 603.600,569.900 L607,600.500"/>
<path class="l" d="M403.500,435.500 Q410,432.800 417,433.800 L576.600,527.100 Q586,535 591.200,545.100 Q596,557.500 598,569.900 L601.300,603.500"/>
<!-- lug -->
<path class="b" fill="#fff" d="M602.500,524.900 Q606,519.500 614.800,515.900 L626.100,511.400 L631.700,514.800 L632.800,520.400 L625.500,526 Q626.500,530 625,534.500 L634.500,529.500 L634.800,536.500 L612.600,548.500 Q607.500,545 605.800,538.400 Z"/>
<path class="l" d="M605.500,527 Q609,521.500 616,518.500 L626.500,514.200 M608.500,539 Q610,543 613.500,545.500 L631.700,536"/>
<ellipse class="b" cx="617.100" cy="530.500" rx="6.400" ry="7.200" transform="rotate(20 617.100 530.500)"/>
<path class="b" d="M621.500,525.500 L631.700,519.500 M623.500,534 L633,529"/>
</g>

<!-- 50_blade070.svg -->
<g id="blade070">
<!-- right edge & rail -->
<path class="b" d="M260,344 L266.700,342.500 L274.200,344 L281,342.200 L246.200,822 L238,828 L230.500,835.500 L223.700,833.200"/>
<path class="l" d="M275.700,344 L265,470 L255.700,600 L246,750 L240.500,823"/>
<path class="l" d="M272.500,346 L270.800,369 L262,470 L252.500,600 L243.500,740 L238,816"/>
<path d="M269.500,392 L263.500,470 L254,600 L245,738 L240.500,800" fill="none" stroke="#000" style="stroke-width:1.300;stroke-dasharray:1.100 3.200"/>
<path class="l" d="M266.800,392 L260.500,470 L251,600 L242,735 L236.500,815"/>
<path d="M271.200,400 L268.500,440 M262.800,493 L260.500,520 M250,640 L248,672 M241.500,760 L238.500,806" fill="none" stroke="#000" style="stroke-width:2.200"/>
<!-- top cap -->
<path class="b" d="M260,344 L257.700,366.500 L259.200,372.500 L242.700,452 L240.500,453.500 L237.200,470 L227.500,564.500 L226,567.500 L224.200,600 L225.700,618 L220.500,705 L222,732 L222.200,735 L223.700,780 L222.200,808.500 L222.200,831 L223.700,833.200"/>
<path class="l" d="M257.700,366.500 L265.500,370 L266,364 M265.500,370 L272,369.500 M266.700,342.500 L265.200,372.500 L250.200,453.500 M269,346 L268,363 M270.500,346 L269.500,362"/>
<path class="l" d="M262.500,372.500 L246.500,453 M272,369.500 L264.500,440 L262.200,459.500"/>
<!-- yoke 1 end & clip -->
<path class="l" d="M240.500,453.500 Q248,458 255.500,455 L257,453.500 L267.500,456.500 L266.500,466 L259,468 L257.500,463"/>
<path class="l" d="M251.500,462.500 h2.500 v3 h-2.500 z"/>
<!-- yoke mid (3 slots) -->
<path class="l" d="M255.500,455 L248.500,470 L243.500,520 L240.200,566 L226,567.500"/>
<path class="l" d="M252.200,470 L248.500,520 L245.500,552 M260.500,470 L257.500,510"/>
<path class="b" d="M238.200,474.500 L243.200,475.500 L241.800,495.500 L237,494.500 Z M235.800,500.700 L241,501.700 L239.600,521 L234.600,520 Z M233.400,527 L238.700,528 L237.300,547.200 L232.200,546.200 Z"/>
<path class="l" d="M240.500,476.500 L239.500,493 M238.200,502.700 L237.200,519 M236,529 L235,545"/>
<!-- pivot tab 1 -->
<path class="l" d="M249.500,497 Q254,499 256.500,504 L256,511 Q252,515 247.500,517 L247,551"/>
<ellipse class="l" cx="253" cy="509" rx="1.800" ry="2.100"/>
<path d="M245.500,527 L248.500,552.500" fill="none" stroke="#000" style="stroke-width:2.200"/>
<path class="l" d="M248.500,552.500 Q252,556 258,556.500 M256,513 L253,548 Q251,552 248.500,552.500"/>
<!-- lower yoke section start -->
<path class="l" d="M226,567.500 Q233,572 240.200,571 L236,600 L234,618 M229.500,570.500 L227,600 M240.200,566 L240.200,571 M233,572 L230.500,600"/>
<path class="l" d="M245,556 L243,572 L240.500,600 L238.500,625"/>
<ellipse class="l" cx="241.700" cy="600.500" rx="2.800" ry="3.200"/>
<ellipse class="l" cx="240.200" cy="611.700" rx="1.200" ry="1.500"/>
<!-- clip 2 -->
<path class="b" d="M225.700,618 L231.500,617 L238,622 L237.700,625.500 L231,624.500 Z"/>
<path class="b" d="M241.500,633 L246.500,629.200 L255,630.500 L254.500,637.500 L249.500,638 L243,637 Z"/>
<path class="l" d="M246.500,629.200 L246,637 M249.500,631 L249.500,638"/>
<!-- yoke 2 with slots -->
<path class="l" d="M237.700,625.500 L235.500,675 L237,730.500 M243,637 L239,680 L238,700"/>
<path class="b" d="M226.700,640.500 L232.500,641.500 L231.300,664.500 L225.500,663.500 Z M225.200,669 L231,670 L229.800,691.500 L224,690.500 Z M224.500,695.200 L228.700,696 L227.700,717 L223.500,716.200 Z"/>
<path class="l" d="M229.500,643 L228.500,662 M228,672 L227,689"/>
<!-- pivot tab 2 -->
<path class="l" d="M238.500,676 Q243.500,676.500 246,680 L245.500,687 Q241,693 238.500,700 L238,722"/>
<ellipse class="l" cx="243.700" cy="682.200" rx="1.700" ry="2"/>
<path d="M238.500,694 L237.500,722" fill="none" stroke="#000" style="stroke-width:2.200"/>
<path class="l" d="M246,690 L243.500,722 Q241.500,727 238.500,727.500"/>
<!-- yoke 2 end -->
<path class="l" d="M222,732 Q226,738 229.500,738.700 Q234,738.500 238.500,733.500 L238.500,727"/>
<ellipse class="l" cx="236" cy="730.500" rx="1.200" ry="1.500"/>
<path class="l" d="M229.700,738.700 L232,804 M235,738 L235,810 M226,737 L227,790 L225.500,808.500"/>
<path class="l" d="M222.200,808.500 L228.500,811 L228,832.500 M232,804 L238,808 M232,815 L237.500,817 L237,826"/>
<path d="M232.500,820 L237,822 L236.500,828 L232,830.500 Z" class="k"/>
</g>

<!-- 55_arm050.svg -->
<g id="55_arm050">
<path class="b" d="M203.5,590.5 Q204.500,586.500 208,586 L214,587.500 Q216.800,589 217,592 L216.200,604 L210.200,606.200 L209.500,607 L204.200,638.500 L200.500,692.500 L202,692.500 L200.500,770 L202,800 L205.500,876.700 L205,882.700 L205.500,898.300 L187.600,906.700 L180.400,901.900 L176.800,894.700 L176.800,887.500 L179.200,882.700 L179.200,875 L175.600,873.100 L175.600,861.700 L173.800,860 L179.800,800 L187,730 L190,691.700 L190.700,691 L197.500,638.500 Z" fill="#fff"/>
<path class="l" d="M209.500,593.500 L209,605 M214,593.500 L213.200,604.700 L209,605 M209.500,593.500 Q211.500,591.500 214,593.500" />
<path class="l" d="M207,607 L200.800,638.500 L196,692 M197.500,638.500 L204.200,638.500 M190,691.700 L196,694 L202,692.500" />
<path class="l" d="M196,694 L192.400,800 L189.400,869.500 L188.800,906.700" />
<path class="l" d="M175.600,861.700 L181.600,863 L189.400,869.500 L192.400,869.500 M179.200,875 L189,880.500 M189.400,882.700 Q197,884.500 205,882.700 M189.800,886.500 L205.200,886" />
<ellipse class="b" cx="198.1" cy="875" rx="3.3" ry="4" transform="rotate(20 198.1 875)" />
<ellipse class="t" cx="192.2" cy="722.5" rx="1" ry="1.2" transform="rotate(0 192.2 722.5)" />
<ellipse class="t" cx="194.8" cy="790.5" rx="1.3" ry="1.6" transform="rotate(0 194.8 790.5)" />
<path class="l" d="M183,896.500 l3,0.500 M195.500,892.500 l1.500,-1 l0.500,2 z M199.500,890.500 l2,-0.800" />
<g transform="translate(148.6,889.9)">
<path class="b" fill="#fff" d="M-7.500,-2 L-4,-7.500 L2.500,-8.200 L7.500,-3.500 L7.800,3.500 L3.500,7.800 L-2.500,8 L-6.500,4.500 Z"/>
<ellipse class="b" cx="-1.800" cy="0.500" rx="5" ry="7" transform="rotate(-24 -1.800 0.500)"/>
<ellipse class="l" cx="-2" cy="0.800" rx="3.200" ry="4.800" transform="rotate(-24 -2 0.800)"/>
<ellipse class="b" cx="-2.200" cy="1" rx="1.500" ry="2.600" transform="rotate(-24 -2.200 1)"/>
<path class="l" d="M2.500,-8.200 L0.500,-6 M7.500,-3.500 L3.500,-2.500 M7.800,3.500 L4,2.500"/>
</g>
<path class="t" d="M155.800,886.300 L161.800,883.300 L175.600,891.700 M136.600,895.900 L141.400,893.500" />
<ellipse class="b" cx="295.6" cy="845.3" rx="16.3" ry="24" transform="rotate(-23 295.6 845.3)" fill="#fff"/>
<ellipse class="l" cx="290.1" cy="847.7" rx="16.3" ry="24" transform="rotate(-23 290.1 847.7)" fill="#fff"/>
<ellipse class="l" cx="285.5" cy="849.6" rx="15.3" ry="22.5" transform="rotate(-23 285.5 849.6)" fill="#fff"/>
<ellipse class="b" cx="282.8" cy="850.8" rx="15" ry="22" transform="rotate(-23 282.8 850.8)" fill="#fff"/>
<ellipse class="l" cx="279.1" cy="852.4" rx="13.3" ry="19.5" transform="rotate(-23 279.1 852.4)" fill="#fff"/>
<ellipse class="b" cx="276.3" cy="853.5" rx="12.6" ry="18.5" transform="rotate(-23 276.3 853.5)" fill="#fff"/>
<ellipse class="l" cx="272.6" cy="855.1" rx="10.5" ry="15.5" transform="rotate(-23 272.6 855.1)" fill="#fff"/>
<ellipse class="b" cx="269.9" cy="856.3" rx="9.9" ry="14.5" transform="rotate(-23 269.9 856.3)" fill="#fff"/>
<ellipse class="l" cx="266.2" cy="857.8" rx="7.8" ry="11.5" transform="rotate(-23 266.2 857.8)" fill="#fff"/>
<ellipse class="b" cx="262.5" cy="859.4" rx="6.7" ry="9.9" transform="rotate(-23 262.5 859.4)" fill="#fff"/>
<ellipse class="b" cx="262.8" cy="859.4" rx="5.2" ry="7.8" transform="rotate(-23 262.8 859.4)" />
<ellipse class="l" cx="263.1" cy="859.4" rx="3.6" ry="5.6" transform="rotate(-23 263.1 859.4)" />
<path class="l" d="M260.500,855 L265,864 M258.500,860.500 L266.500,858 M262,853.500 L264,865" />
<path class="t" d="M256.2,863 L205.5,885.7" />
<ellipse class="t" cx="327.7" cy="828.8" rx="10" ry="14.3" transform="rotate(-23 327.7 828.8)" style="stroke-dasharray:7 3"/>
<path class="t" d="M310.1,838.2 L335.3,827" />
</g>

<!-- 60_motor010.svg -->
<g id="60_motor010">
<path class="t" d="M784.1,666.7 L795.6,661.8" />
<path class="t" d="M661,722.4 L692.8,708" />
<path class="b" d="M608.3,626.4 Q612,623.500 616.700,624.300 Q621,624.800 624,626.400 L667,647.400 L667,690 L622,679.900 L596.800,667.300 L597.800,641.600 L597.800,637.900 Z" fill="#fff"/>
<path class="l" d="M597.800,641.600 L653.400,668.300 M597.800,637.900 L592.100,643.200 Q591,645.500 591.500,647.400 L594.500,650 L596.500,648.500 M594.500,650 L594.500,655" />
<path class="b" d="M681.800,606.900 Q683,602 689,601.700 Q692,601.800 694.200,603 L736.300,623.800 L744,629.300 L776.900,657.900 L782.400,666.700 L783.500,673.300 L782.700,676 L759.900,708 L746.700,723.500 Q743.500,726.500 740.700,726.500 Q737,726 734.700,723.500 L729.900,712.800 L726.300,706.800 L711.900,708 L702.400,704.400 L679.600,698.400 L668.800,709.200 L661.600,712.800 L653.200,705.600 L653.200,667.200 L666,652 L678.600,631.600 L681.200,616 Z" fill="#fff"/>
<path class="l" d="M690.300,605.600 L735,627 L742.500,632.500 L774.500,660 L778.800,667.500 L779.500,674.400 L756,706.900 L746,719" />
<ellipse class="b" cx="689.6" cy="613.2" rx="2.8" ry="5" transform="rotate(-20 689.6 613.2)" />
<ellipse class="b" cx="773.4" cy="670.5" rx="2.8" ry="4.8" transform="rotate(-20 773.4 670.5)" />
<ellipse class="b" cx="738.9" cy="716.4" rx="2.2" ry="4.2" transform="rotate(-10 738.9 716.4)" />
<path class="t" d="M688.500,610 l2.200,6.500 M772.300,667.500 l2.200,6" />
<path class="l" d="M678.600,631.600 L695.500,624.400 L727.900,627.700 Q735,632 740.900,639.400 Q747,646 750,655 L752,664 L764,672 L766,690 L722,706" />
<path class="l" d="M695.500,624.400 Q700,622.500 706,623.500 L727,626 M699,626.500 L722,629.500 M727.900,627.700 L708,637 M735,633.500 L716,643.500 M712,639 L731,660 M752,664 L740,668 L762,684" />
<path class="l" d="M740,668 Q741,655 735,646 Q730,639 724,636" />
<path class="b" d="M666.900,655 Q666,644 672.100,636.800 Q677,632.500 682.500,632.900 Q689,634 692.900,638.100 Q697.500,643 699.400,648.400 L700,653" fill="#fff"/>
<path class="l" d="M669.500,655 Q669,645.500 674,639.500 Q678,636 682.500,636 Q688,637 691.500,641 Q695,645 696.500,650" />
<path class="l" d="M684.500,641 L681,660 M686.500,641.500 L683.500,660" />
<path class="b" d="M661.700,670.500 L707.100,652.300 Q711.500,655 711,664 L669.500,680.900 Z" fill="#fff"/>
<path class="l" d="M664,676 Q671,670 672,680" />
<path class="l" d="M702,645 L722,637 L726,644 L706,652.500 Z M706,652.500 L709,660 L729,652 L726,644 M712,666 L733,657.500 L729,652 M714,672 L716,684 L728,680 L733,657.500" />
<path class="l" d="M712,690 L745,678 M716,694 L748,682.500 M728,664 L741,695 M731,663 L744,694" />
<path d="M714,679 L738,669" fill="none" stroke="#000" style="stroke-width:2.600"/>
<path class="l" d="M702,639.4 L711,636 L711,645 L702,648.4 Z M711,634.2 L722.7,630.5 L722.7,640.5 L711,644.5 M720,638 L730.5,634.5 L730.5,647 L720,651 Z" />
<path class="l" d="M711,662.7 L728,656.5 L728,666.5 L711,673 Z M728,666.6 L733,697.8 M731.5,666 L737,696.5 M712.3,688 L748.7,679.6 M712.3,691.3 L748.7,683.5 M730.5,668 L741,697 L737,698" />
<ellipse class="b" cx="755.8" cy="697.1" rx="2.4" ry="4.2" transform="rotate(-20 755.8 697.1)" />
<path d="M751,700 l4,-8 M753.500,702 l4.500,-9" fill="none" stroke="#000" style="stroke-width:1.600"/>
<path class="l" d="M653.200,667.200 L657,662 L664,664 L664,700 L676,708 M664,664 L668,660 L676,662 L676,698 M657,662 L657,703 M660,676 L660,706" />
<path d="M655,664 L655,704" fill="none" stroke="#000" style="stroke-width:2.400"/>
<path d="M660.500,671 l5,3 l-1,6 l-5,-2 z" class="k"/>
<path d="M676,680 L702,699 M677,686 L702,701.500 M678,692 L700,703.500" fill="none" stroke="#000" style="stroke-width:2.800"/>
<path class="b" d="M676,676 L690,684 M702,699 L714,702 L722.700,706.900" />
<path class="b" d="M702.400,704.400 Q712,700 722,701 L743.500,703 M722.700,706.900 L743.500,703" />
<path class="b" d="M743,700.500 L750,699 L756.500,708.500 L749.500,713.500 Z" fill="#fff"/>
<path d="M748,714.500 L757,708 L760,716.500 L752,719.500 Z" class="k"/>
<path class="b" d="M757.500,710.400 Q764,711 771.900,715.200 L801,736.500 Q803,738.500 801.500,741 L797.500,744.500 L755.100,716.400" fill="#fff"/>
<path class="l" d="M797,740 L800.500,737 M796,739.500 l2.500,3" />
<path class="b" d="M805.500,739.500 L843.900,770 L840.900,778 L800.800,746 Q800,744 801.500,742.500 Z" fill="#fff"/>
<path class="l" d="M803,744.500 L806.500,741.500" />
<path d="M842.500,769.500 L849,773 L850,779.500 L843.500,779.500 L840.500,777.500 Z" class="k"/>
<path class="b" d="M846.400,781 L849.900,778 L864.900,773.400 L879.900,781 L890.400,788.400 L889.900,801.400 L865.900,812.400 L853.900,803.400 L853.900,799 L846.400,794 Z" fill="#fff"/>
<path class="b" d="M853.900,799 L855,789 L861,783.500 L866,778.500 L876,786.500 L890.400,788.400 M855,789 L869,797.500 L868,811 M869,797.500 L876,786.500 M846.400,781 L855,789 M849.900,778 L861,783.500" />
<path class="l" d="M858,787 L871,794 M860.500,784.500 L873.500,791.500 M863,782 L875,788.500 M869.500,777.500 L879,784 M872,777 L881.500,783.500" />
<path class="b" d="M874,792 L884,788.500 L887,798 L876,803.500 Z M877.500,794 L883,792 L884.500,797 L879,799.500 Z M871,806 L887,799" />
<ellipse class="b" cx="734.2" cy="592.5" rx="6.7" ry="10.9" transform="rotate(-24 734.2 592.5)" fill="#fff"/>
<path class="w" d="M722.1,585 L729.8,582.6 L738.6,602.5 L731.7,606.6 Z" style="stroke:none"/>
<path class="b" d="M722.1,585 L729.8,582.6" />
<path class="b" d="M731.7,606.6 L738.6,602.5" />
<path class="l" d="M727.4,583.3 A6.9 11.2 -24 0 1 736.5,603.8" />
<path class="l" d="M724.8,583.8 A7.3 11.8 -24 0 1 734.4,605.4" />
<ellipse class="b" cx="726.9" cy="595.8" rx="7.3" ry="11.8" transform="rotate(-24 726.9 595.8)" fill="#fff"/>
<ellipse class="b" cx="727.1" cy="596.1" rx="3" ry="4.6" transform="rotate(-24 727.1 596.1)" style="stroke-width:1.8"/>
<path class="t" d="M726.1,593.8 l2,5" />
<ellipse class="b" cx="811.1" cy="653.5" rx="6.7" ry="10.9" transform="rotate(-24 811.1 653.5)" fill="#fff"/>
<path class="w" d="M799,646 L806.7,643.6 L815.5,663.5 L808.6,667.6 Z" style="stroke:none"/>
<path class="b" d="M799,646 L806.7,643.6" />
<path class="b" d="M808.6,667.6 L815.5,663.5" />
<path class="l" d="M804.3,644.3 A6.9 11.2 -24 0 1 813.4,664.8" />
<path class="l" d="M801.7,644.8 A7.3 11.8 -24 0 1 811.3,666.4" />
<ellipse class="b" cx="803.8" cy="656.8" rx="7.3" ry="11.8" transform="rotate(-24 803.8 656.8)" fill="#fff"/>
<ellipse class="b" cx="804" cy="657.1" rx="3" ry="4.6" transform="rotate(-24 804 657.1)" style="stroke-width:1.8"/>
<path class="t" d="M803,654.8 l2,5" />
<path class="t" d="M742.3,589.2 L745.6,587.6" />
<path class="t" d="M818.7,651.3 L821.4,649.7" />
</g>

<!-- 70_axes.svg -->
<g id="axes2">
<path class="t" d="M522,688.500 L719.200,600.200"/>
<path class="t" d="M469.900,764.500 L664,676"/>
<path class="cl" d="M339.800,824.700 L466,766.500"/>
</g>

<!-- 80_leaders.svg -->
<g id="leaders" class="t">
<path d="M566.5,159.5 H632.5 L655,182.5"/>
<path d="M104.5,453 H161.3 L177.5,495"/>
<path d="M391.3,631.3 H447.5 L464.5,671.3" style="stroke-width:1.3"/>
<path d="M1203.8,99.5 H1223.8"/>
<path d="M1225,158.8 L1165,173"/>
<path d="M1223,372.5 L1168.8,362.5"/>
<path d="M955,196.3 L977.5,208.8"/>
<path d="M1060,255 L1075,273"/>
<path d="M945,143.8 L922.5,137"/>
<path d="M870.5,98.8 L873.8,126.3"/>
<path d="M830.5,120 L843,143.8"/>
<path d="M715,185.5 L731.3,220"/>
<path d="M777.5,281.3 L773.8,301.3"/>
<path d="M850,406 L857,424"/>
<path d="M611.3,235.5 L627,272.5"/>
<path d="M463.8,287 H475"/>
<path d="M500.8,327.5 L533.8,368"/>
<path d="M638.8,375 L655,388.8"/>
<path d="M761,470 L778,488"/>
<path d="M701,430 L727,478.8"/>
<path d="M421,381 L430,411"/>
<path d="M316.3,522 L268,527.5"/>
<path d="M750,547.5 L736.3,583.8"/>
<path d="M816.3,617.5 L810.8,646.3"/>
<path d="M925.5,675 L784.5,674.3"/>
<path d="M127.5,845.8 L173.8,852"/>
<path d="M127.5,882 L141,886"/>
<path d="M339.5,872.5 L310,861"/>
<path d="M952,638.8 H963.8"/>
<!-- brackets -->
<path d="M496,230.8 L475,241 V337.5 L496,348.8" style="stroke-dasharray:12 4 44 5 26 4 20 4 14 4 22;stroke-width:1"/>
<path d="M930,577.5 L952,588.8 V683.8 L930.5,696.3" style="stroke-dasharray:12 4 54 4 40 4 8 4 8 4 20;stroke-width:1"/>
<circle cx="500.8" cy="327.5" r="3.2" class="k"/>
<circle cx="925.5" cy="675" r="3.3" class="k"/>
<circle cx="925" cy="626.8" r="1.3" class="k"/>
<path d="M504.5,267.5 q-4.5,4 -1.5,9 q3.5,5 -0.5,9.5" style="stroke-width:1.9"/>
</g>

<!-- 90_text.svg -->
<g id="labels" transform="translate(0,0.7)" style="opacity:0.999">
<text class="n" x="1226.5" y="108.0" textLength="40.3" lengthAdjust="spacingAndGlyphs">170</text>
<rect x="1227.0" y="105.0" width="5.4" height="3.6" fill="#fff"/>
<rect x="1234.9" y="105.0" width="5.1" height="3.6" fill="#fff"/>
<text class="n" x="1225.0" y="166.3" textLength="43.5" lengthAdjust="spacingAndGlyphs">200</text>
<text class="n" x="1226.0" y="380.5" textLength="42.4" lengthAdjust="spacingAndGlyphs">210</text>
<rect x="1240.6" y="377.6" width="5.7" height="3.6" fill="#fff"/>
<rect x="1249.0" y="377.6" width="5.3" height="3.6" fill="#fff"/>
<text class="n" x="947.8" y="151.3" textLength="40.6" lengthAdjust="spacingAndGlyphs">130</text>
<rect x="948.3" y="148.4" width="5.4" height="3.6" fill="#fff"/>
<rect x="956.2" y="148.4" width="5.1" height="3.6" fill="#fff"/>
<text class="n" x="851.5" y="95.8" textLength="39.4" lengthAdjust="spacingAndGlyphs">110</text>
<rect x="852.0" y="92.8" width="5.5" height="3.6" fill="#fff"/>
<rect x="860.1" y="92.8" width="5.2" height="3.6" fill="#fff"/>
<rect x="865.7" y="92.8" width="5.5" height="3.6" fill="#fff"/>
<rect x="873.8" y="92.8" width="5.2" height="3.6" fill="#fff"/>
<text class="n" x="804.1" y="115.0" textLength="39.3" lengthAdjust="spacingAndGlyphs">100</text>
<rect x="804.5" y="112.0" width="5.3" height="3.6" fill="#fff"/>
<rect x="812.2" y="112.0" width="4.9" height="3.6" fill="#fff"/>
<text class="n" x="691.2" y="180.0" textLength="43.4" lengthAdjust="spacingAndGlyphs">090</text>
<text class="n" x="964.0" y="233.8" textLength="40.6" lengthAdjust="spacingAndGlyphs">150</text>
<rect x="964.5" y="230.9" width="5.4" height="3.6" fill="#fff"/>
<rect x="972.5" y="230.9" width="5.1" height="3.6" fill="#fff"/>
<text class="n" x="1057.8" y="296.3" textLength="40.6" lengthAdjust="spacingAndGlyphs">150</text>
<rect x="1058.3" y="293.4" width="5.4" height="3.6" fill="#fff"/>
<rect x="1066.2" y="293.4" width="5.1" height="3.6" fill="#fff"/>
<text class="n" x="760.3" y="273.0" textLength="39.3" lengthAdjust="spacingAndGlyphs">140</text>
<rect x="760.8" y="270.1" width="5.3" height="3.6" fill="#fff"/>
<rect x="768.5" y="270.1" width="4.9" height="3.6" fill="#fff"/>
<text class="n" x="838.6" y="445.5" textLength="39.3" lengthAdjust="spacingAndGlyphs">140</text>
<rect x="839.0" y="442.6" width="5.3" height="3.6" fill="#fff"/>
<rect x="846.7" y="442.6" width="4.9" height="3.6" fill="#fff"/>
<text class="n" x="590.3" y="231.8" textLength="40.6" lengthAdjust="spacingAndGlyphs">120</text>
<rect x="590.8" y="228.9" width="5.4" height="3.6" fill="#fff"/>
<rect x="598.7" y="228.9" width="5.1" height="3.6" fill="#fff"/>
<text class="n" x="481.2" y="260.0" textLength="43.4" lengthAdjust="spacingAndGlyphs">090</text>
<text class="n" x="482.8" y="310.0" textLength="40.6" lengthAdjust="spacingAndGlyphs">180</text>
<rect x="483.3" y="307.1" width="5.4" height="3.6" fill="#fff"/>
<rect x="491.2" y="307.1" width="5.1" height="3.6" fill="#fff"/>
<text class="n" x="416.2" y="296.3" textLength="42.7" lengthAdjust="spacingAndGlyphs">080</text>
<text class="n" x="593.5" y="381.0" textLength="39.8" lengthAdjust="spacingAndGlyphs">180</text>
<rect x="594.0" y="378.1" width="5.3" height="3.6" fill="#fff"/>
<rect x="601.8" y="378.1" width="5.0" height="3.6" fill="#fff"/>
<text class="n" x="709.5" y="502.5" textLength="40.1" lengthAdjust="spacingAndGlyphs">190</text>
<rect x="710.0" y="499.6" width="5.4" height="3.6" fill="#fff"/>
<rect x="717.9" y="499.6" width="5.0" height="3.6" fill="#fff"/>
<text class="n" x="761.5" y="513.0" textLength="40.6" lengthAdjust="spacingAndGlyphs">180</text>
<rect x="762.0" y="510.1" width="5.4" height="3.6" fill="#fff"/>
<rect x="770.0" y="510.1" width="5.1" height="3.6" fill="#fff"/>
<text class="n" x="400.0" y="375.0" textLength="40.3" lengthAdjust="spacingAndGlyphs">160</text>
<rect x="400.5" y="372.1" width="5.4" height="3.6" fill="#fff"/>
<rect x="408.4" y="372.1" width="5.1" height="3.6" fill="#fff"/>
<text class="n" x="321.2" y="530.0" textLength="43.4" lengthAdjust="spacingAndGlyphs">070</text>
<text class="n" x="728.8" y="543.8" textLength="43.4" lengthAdjust="spacingAndGlyphs">040</text>
<text class="n" x="797.0" y="613.0" textLength="43.4" lengthAdjust="spacingAndGlyphs">040</text>
<text class="n" x="903.8" y="614.3" textLength="43.4" lengthAdjust="spacingAndGlyphs">020</text>
<text class="n" x="903.8" y="657.0" textLength="43.4" lengthAdjust="spacingAndGlyphs">030</text>
<text class="n" x="969.5" y="647.5" textLength="43.4" lengthAdjust="spacingAndGlyphs">010</text>
<rect x="984.5" y="644.5" width="5.8" height="3.6" fill="#fff"/>
<rect x="993.0" y="644.5" width="5.4" height="3.6" fill="#fff"/>
<text class="n" x="79.5" y="853.0" textLength="42.2" lengthAdjust="spacingAndGlyphs">050</text>
<text class="n" x="80.0" y="890.0" textLength="42.2" lengthAdjust="spacingAndGlyphs">020</text>
<text class="n" x="345.8" y="879.5" textLength="42.2" lengthAdjust="spacingAndGlyphs">030</text>
<text class="f" x="565.3" y="131.3" textLength="54.4" lengthAdjust="spacingAndGlyphs">Fig.No.</text>
<text class="f" x="565.3" y="154.5" textLength="65.7" lengthAdjust="spacingAndGlyphs">N150XX</text>
<rect x="578.4" y="152.4" width="3.9" height="2.8" fill="#fff"/>
<rect x="584.1" y="152.4" width="3.7" height="2.8" fill="#fff"/>
<text class="f" x="107.3" y="424.5" textLength="53.6" lengthAdjust="spacingAndGlyphs">Fig.No.</text>
<text class="f" x="107.2" y="448.0" textLength="44.0" lengthAdjust="spacingAndGlyphs">N120</text>
<rect x="120.9" y="445.9" width="4.1" height="2.8" fill="#fff"/>
<rect x="126.9" y="445.9" width="3.8" height="2.8" fill="#fff"/>
<text class="f" x="393.6" y="601.3" textLength="53.6" lengthAdjust="spacingAndGlyphs">Fig.No.</text>
<text class="f" x="393.5" y="624.3" textLength="43.6" lengthAdjust="spacingAndGlyphs">N110</text>
<rect x="407.4" y="622.2" width="4.2" height="2.8" fill="#fff"/>
<rect x="413.6" y="622.2" width="3.9" height="2.8" fill="#fff"/>
<rect x="417.9" y="622.2" width="4.2" height="2.8" fill="#fff"/>
<rect x="424.0" y="622.2" width="3.9" height="2.8" fill="#fff"/>
<text class="s" x="1168.7" y="874.8" textLength="99.4" lengthAdjust="spacingAndGlyphs">3P405-036-10</text>
<rect x="1250.9" y="873.1" width="3.5" height="2.4" fill="#fff"/>
<rect x="1256.1" y="873.1" width="3.3" height="2.4" fill="#fff"/>
</g>

</svg>
</body></html>
